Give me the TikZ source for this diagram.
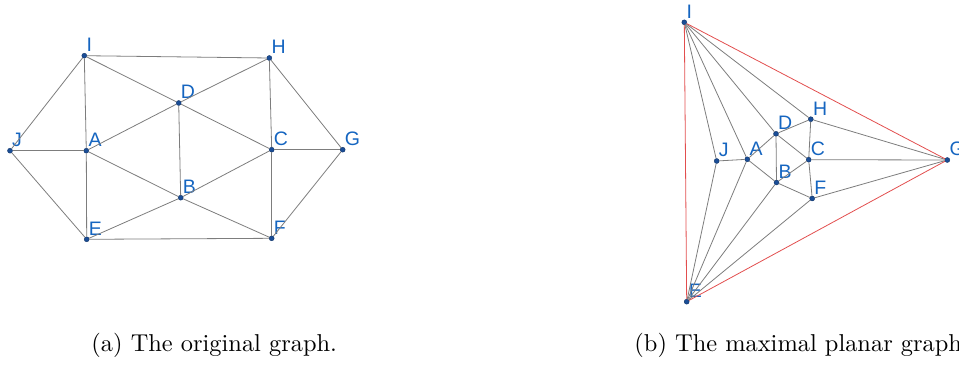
\documentclass[tikz,border=0pt]{standalone}
\usepackage{fontspec}
\newfontfamily\lblfont{Liberation Sans}
\definecolor{ggblue}{RGB}{21,101,192}
\definecolor{ggdot}{RGB}{26,77,150}
\definecolor{edgegray}{RGB}{125,125,125}
\definecolor{edgered}{RGB}{226,78,78}
\tikzset{
  pt/.style={circle, fill=ggdot, draw=ggdot!70!black, line width=0.4pt, inner sep=0pt, minimum size=5pt},
  lbl/.style={anchor=base west, inner sep=0pt, text=ggblue, font=\lblfont\fontsize{19.5}{21}\selectfont},
  edge/.style={draw=edgegray, line width=0.8pt},
  redge/.style={draw=edgered, line width=0.8pt},
  capt/.style={anchor=base west, inner sep=0pt, scale=2.44}
}
\newcommand\vtx[4]{\node[pt] (#1) at (#2,#3) {};
  \node[lbl] (#1t) at ([xshift=2pt,yshift=4pt]#1.center) {#4};}
\begin{document}
\begin{tikzpicture}[x=1pt,y=-1pt]
\useasboundingbox (0,0) rectangle (959,377);
% ---- (a) original graph
\vtx{aI}{84.3}{55.7}{I}
\vtx{aH}{269.3}{58}{H}
\vtx{aD}{178.7}{103}{D}
\vtx{aJ}{10}{150.7}{J}
\vtx{aA}{86.3}{150.7}{A}
\vtx{aC}{271.7}{149.7}{C}
\vtx{aG}{342.7}{149.7}{G}
\vtx{aB}{180.7}{197.7}{B}
\vtx{aE}{86.7}{239.3}{E}
\vtx{aF}{271.7}{238.3}{F}
\foreach \u/\v in {aI/aH, aI/aJ, aI/aA, aI/aD, aD/aH, aH/aC, aH/aG, aD/aA, aD/aB, aD/aC,
  aJ/aA, aA/aB, aA/aE, aJ/aE, aC/aG, aC/aB, aC/aF, aG/aF, aB/aE, aB/aF, aE/aF}
  \draw[edge] (\u) -- (\v);
% ---- (b) maximal planar graph
\vtx{bI}{684.3}{22.3}{I}
\vtx{bH}{810.8}{119.2}{H}
\vtx{bD}{776}{133.8}{D}
\vtx{bJ}{716.7}{161}{J}
\vtx{bA}{747.3}{159.3}{A}
\vtx{bC}{808.7}{159.7}{C}
\vtx{bG}{947.3}{160}{G}
\vtx{bB}{776.5}{182.5}{B}
\vtx{bF}{812.2}{198.5}{F}
\vtx{bE}{686.7}{301.7}{E}
\foreach \u/\v in {bI/bJ, bI/bA, bI/bD, bI/bH, bE/bJ, bE/bA, bE/bB, bE/bF, bJ/bA, bA/bD,
  bA/bB, bD/bH, bD/bC, bD/bB, bB/bC, bB/bF, bH/bC, bC/bF, bH/bG, bC/bG, bF/bG}
  \draw[edge] (\u) -- (\v);
\foreach \u/\v in {bI/bG, bG/bE, bI/bE}
  \draw[redge] (\u) -- (\v);
% ---- captions
\node[capt] (capa) at (91,351) {(a) The original graph.};
\node[capt] (capb) at (634,351) {(b) The maximal planar graph.};
\end{tikzpicture}
\end{document}
